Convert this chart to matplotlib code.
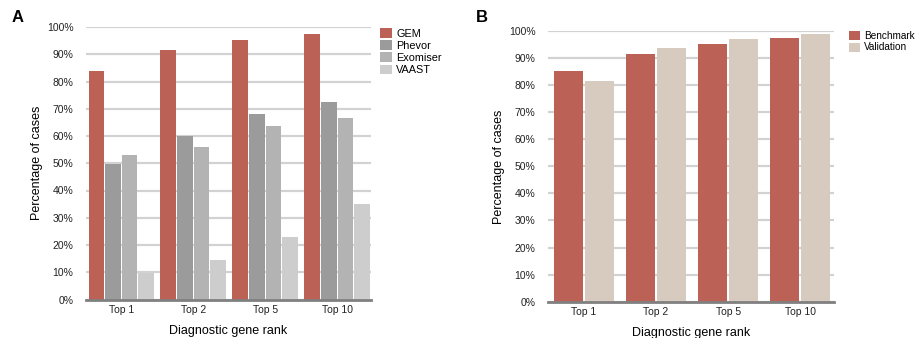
import numpy as np
import matplotlib
matplotlib.use('Agg')
from matplotlib import pyplot as plt

plt.rcParams['font.family'] = ['Liberation Sans', 'DejaVu Sans']
plt.rcParams['font.size'] = 7.5

# data
ranks = ['Top 1', 'Top 2', 'Top 5', 'Top 10']
gem = [84.0, 91.7, 95.3, 97.5]
phevor = [49.6, 60.1, 68.2, 72.6]
exomiser = [53.1, 56.1, 63.8, 66.7]
vaast = [9.7, 14.6, 23.0, 35.1]
benchmark = [85.1, 91.5, 95.2, 97.4]
validation = [81.5, 93.7, 96.9, 98.9]

W, H = 920, 338
RED = '#bc6155'


def px_axes(fig, left, right, top, bottom):
    return fig.add_axes([left / W, 1 - bottom / H, (right - left) / W, (bottom - top) / H])


def style(ax):
    ax.set_ylim(0, 100)
    ax.set_yticks(np.arange(0, 101, 10))
    ax.set_yticklabels(['%d%%' % v for v in range(0, 101, 10)])
    ax.yaxis.grid(True, color='#d2d2d2', linewidth=1.6)
    ax.set_axisbelow(True)
    for s in ['top', 'right', 'left']:
        ax.spines[s].set_visible(False)
    ax.spines['bottom'].set_color('#808080')
    ax.spines['bottom'].set_linewidth(2)
    ax.tick_params(length=0, colors='#222222', pad=4)
    ax.tick_params(axis='y', pad=9)
    ax.set_xticks(range(len(ranks)))
    ax.set_xticklabels(ranks)
    ax.set_xlabel('Diagnostic gene rank', fontsize=9, labelpad=7)
    ax.set_ylabel('Percentage of cases', fontsize=9, labelpad=3)


def legend(ax, x, y, size):
    ax.legend(loc='upper left', bbox_to_anchor=(x / W, 1 - y / H), bbox_transform=fig.transFigure,
              frameon=False, handlelength=1.1, handleheight=1.0, handletextpad=0.4,
              labelspacing=0.15, borderaxespad=0, borderpad=0, fontsize=size)


fig = plt.figure(figsize=(W / 100, H / 100), dpi=100)

# panel A
axA = px_axes(fig, 86, 371, 27, 299.5)
x = np.arange(len(ranks))
slot = 0.23
series = [(gem, RED, 'GEM'), (phevor, '#9b9b9b', 'Phevor'),
          (exomiser, '#b3b3b3', 'Exomiser'), (vaast, '#cdcdcd', 'VAAST')]
for i, (vals, col, lab) in enumerate(series):
    axA.bar(x + (i - 1.5) * slot, vals, width=slot - 0.01, color=col, label=lab)
axA.set_xlim(-0.49, 3.47)
style(axA)
legend(axA, 380, 28, 7.8)
fig.text(12 / W, 1 - 17 / H, 'A', fontsize=12, fontweight='bold', va='center')

# panel B
axB = px_axes(fig, 548, 834, 31, 301.7)
slotB = 0.43
axB.bar(x - slotB / 2, benchmark, width=0.40, color=RED, label='Benchmark')
axB.bar(x + slotB / 2, validation, width=0.40, color='#d7cbbf', label='Validation')
axB.set_xlim(-0.5, 3.47)
style(axB)
legend(axB, 849, 31, 7.2)
fig.text(476 / W, 1 - 17 / H, 'B', fontsize=12, fontweight='bold', va='center')

fig.savefig('out.png', dpi=100)
